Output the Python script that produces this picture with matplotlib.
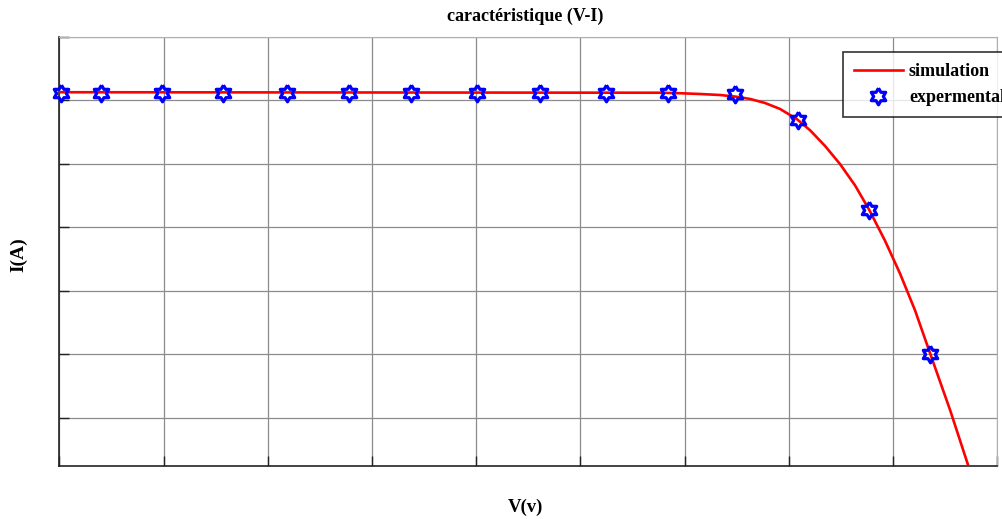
"""
Courbe caracteristique V-I : simulation contre mesures.
"""

import numpy as np
import matplotlib
matplotlib.use("Agg")
import matplotlib.pyplot as plt

# courbe simulee (V en volts, I en amperes)
v_sim = [0.0, 14.41, 14.89, 15.37, 15.85, 16.21, 16.57, 16.93, 17.29, 17.70,
         18.01, 18.37, 18.73, 19.09, 19.43, 19.81, 20.17, 20.53, 20.89, 21.37,
         21.80]
i_sim = [3.065, 3.061, 3.057, 3.051, 3.043, 3.031, 3.012, 2.980, 2.933, 2.851,
         2.765, 2.641, 2.498, 2.330, 2.137, 1.893, 1.634, 1.344, 1.006, 0.559,
         0.127]

# points mesures
v_exp = [0.03, 1.00, 2.46, 3.93, 5.47, 6.95, 8.44, 10.02, 11.53, 13.12,
         14.61, 16.21, 17.71, 19.43, 20.89]
i_exp = [3.062, 3.062, 3.060, 3.060, 3.060, 3.060, 3.060, 3.060, 3.060, 3.058,
         3.057, 3.052, 2.849, 2.135, 1.006]

x_ticks = np.arange(0, 22.51, 2.5)
y_ticks = np.arange(0.5, 3.51, 0.5)

FONT = "Liberation Serif"


def hexagram():
    pts = []
    for k in range(12):
        ang = np.pi / 2 + k * np.pi / 6
        r = 1.0 if k % 2 == 0 else 0.58
        pts.append((r * np.cos(ang), r * np.sin(ang)))
    pts.append(pts[0])
    return pts


def main():
    fig = plt.figure(figsize=(10.03, 5.19), dpi=100)
    ax = fig.add_axes([0.0591, 0.1021, 0.9352, 0.8266])

    ax.plot(v_sim, i_sim, color="red", lw=1.9, label="simulation", zorder=3)
    ax.plot(v_exp, i_exp, ls="none", marker=hexagram(), ms=12,
            mfc="none", mec="blue", mew=2.3, label="expermental", zorder=4,
            clip_on=False)

    ax.set_xlim(0, 22.5)
    ax.set_ylim(0.12, 3.5)
    ax.set_xticks(x_ticks)
    ax.set_yticks(y_ticks)
    ax.set_xticklabels([])
    ax.set_yticklabels([])
    ax.tick_params(direction="in", length=7, width=1, color="#222222",
                   top=False, right=False)
    ax.grid(True, color="#8c8c8c", lw=0.9)
    ax.set_axisbelow(True)

    for s in ["left", "bottom"]:
        ax.spines[s].set_color("#222222")
        ax.spines[s].set_linewidth(1.2)
    ax.spines["top"].set_color("#b0b0b0")
    ax.spines["right"].set_color("#b0b0b0")

    fig.text(0.524, 0.968, "caractéristique (V-I)", ha="center", va="center",
             family=FONT, weight="bold", fontsize=13)
    fig.text(0.524, 0.023, "V(v)", ha="center", va="center",
             family=FONT, weight="bold", fontsize=13.5)
    fig.text(0.019, 0.51, "I(A)", ha="center", va="center", rotation=90,
             family=FONT, weight="bold", fontsize=14)

    leg = ax.legend(loc="upper left", bbox_to_anchor=(0.8355, 0.965),
                    prop={"family": FONT, "weight": "bold", "size": 13},
                    frameon=True, fancybox=False, borderaxespad=0,
                    handlelength=2.7, handletextpad=0.35,
                    labelspacing=0.5, borderpad=0.6)
    leg.get_frame().set_edgecolor("black")
    leg.get_frame().set_linewidth(1.2)

    fig.savefig("out.png", dpi=100)


if __name__ == "__main__":
    main()
